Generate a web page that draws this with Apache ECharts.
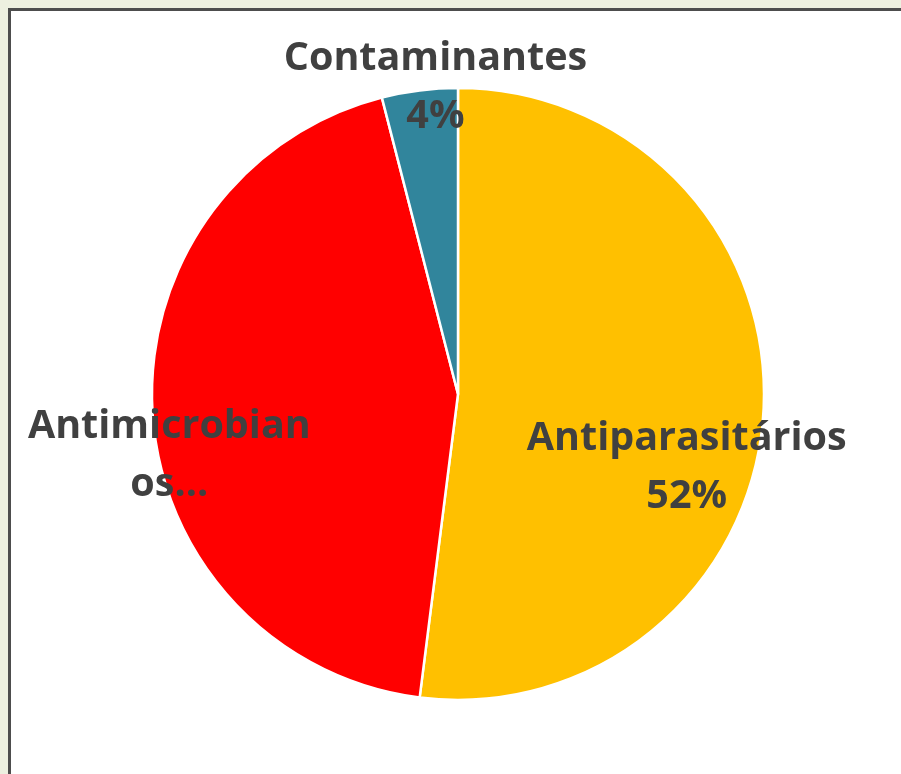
<!DOCTYPE html>
<html>
<head>
<meta charset="utf-8">
<script src="https://cdn.jsdelivr.net/npm/echarts@6/dist/echarts.min.js"></script>
<style>
  html, body { margin: 0; padding: 0; width: 901px; height: 774px; overflow: hidden; background: #edf0e0; }
  #frame { position: absolute; left: 8px; top: 8px; width: 900px; height: 780px; background: #ffffff;
           border-left: 3px solid #4d4d4d; border-top: 3px solid #4d4d4d; }
  #chart { position: absolute; left: 0; top: 0; width: 901px; height: 774px; }
</style>
</head>
<body>
<div id="frame"></div>
<div id="chart"></div>
<script>
const categories = ['Antiparasitários', 'Antimicrobianos', 'Contaminantes'];
const percentages = [52, 44, 4];
const displayLabels = ['Antiparasitários\n52%', 'Antimicrobian\nos...', 'Contaminantes\n4%'];

const colors = ['#FFC000', '#FF0000', '#31859C'];
const labelShift = [[73, 64], [-133, 52], [-3, -151]];

const chart = echarts.init(document.getElementById('chart'), null, { renderer: 'canvas' });
chart.setOption({
  animation: false,
  backgroundColor: 'transparent',
  series: [{
    type: 'pie',
    center: [458, 394],
    radius: [0, 306],
    startAngle: 90,
    clockwise: true,
    data: categories.map((c, i) => ({ name: c, value: percentages[i], itemStyle: { color: colors[i] } })),
    itemStyle: { borderColor: '#ffffff', borderWidth: 2.5 },
    label: {
      show: true,
      position: 'inside',
      formatter: p => displayLabels[p.dataIndex],
      fontFamily: 'Open Sans',
      fontWeight: 'bold',
      fontSize: 39.5,
      lineHeight: 58,
      color: '#404040',
      align: 'center'
    },
    labelLine: { show: false },
    labelLayout: p => ({ dx: labelShift[p.dataIndex][0], dy: labelShift[p.dataIndex][1] }),
    emphasis: { disabled: true }
  }]
});
</script>
</body>
</html>
